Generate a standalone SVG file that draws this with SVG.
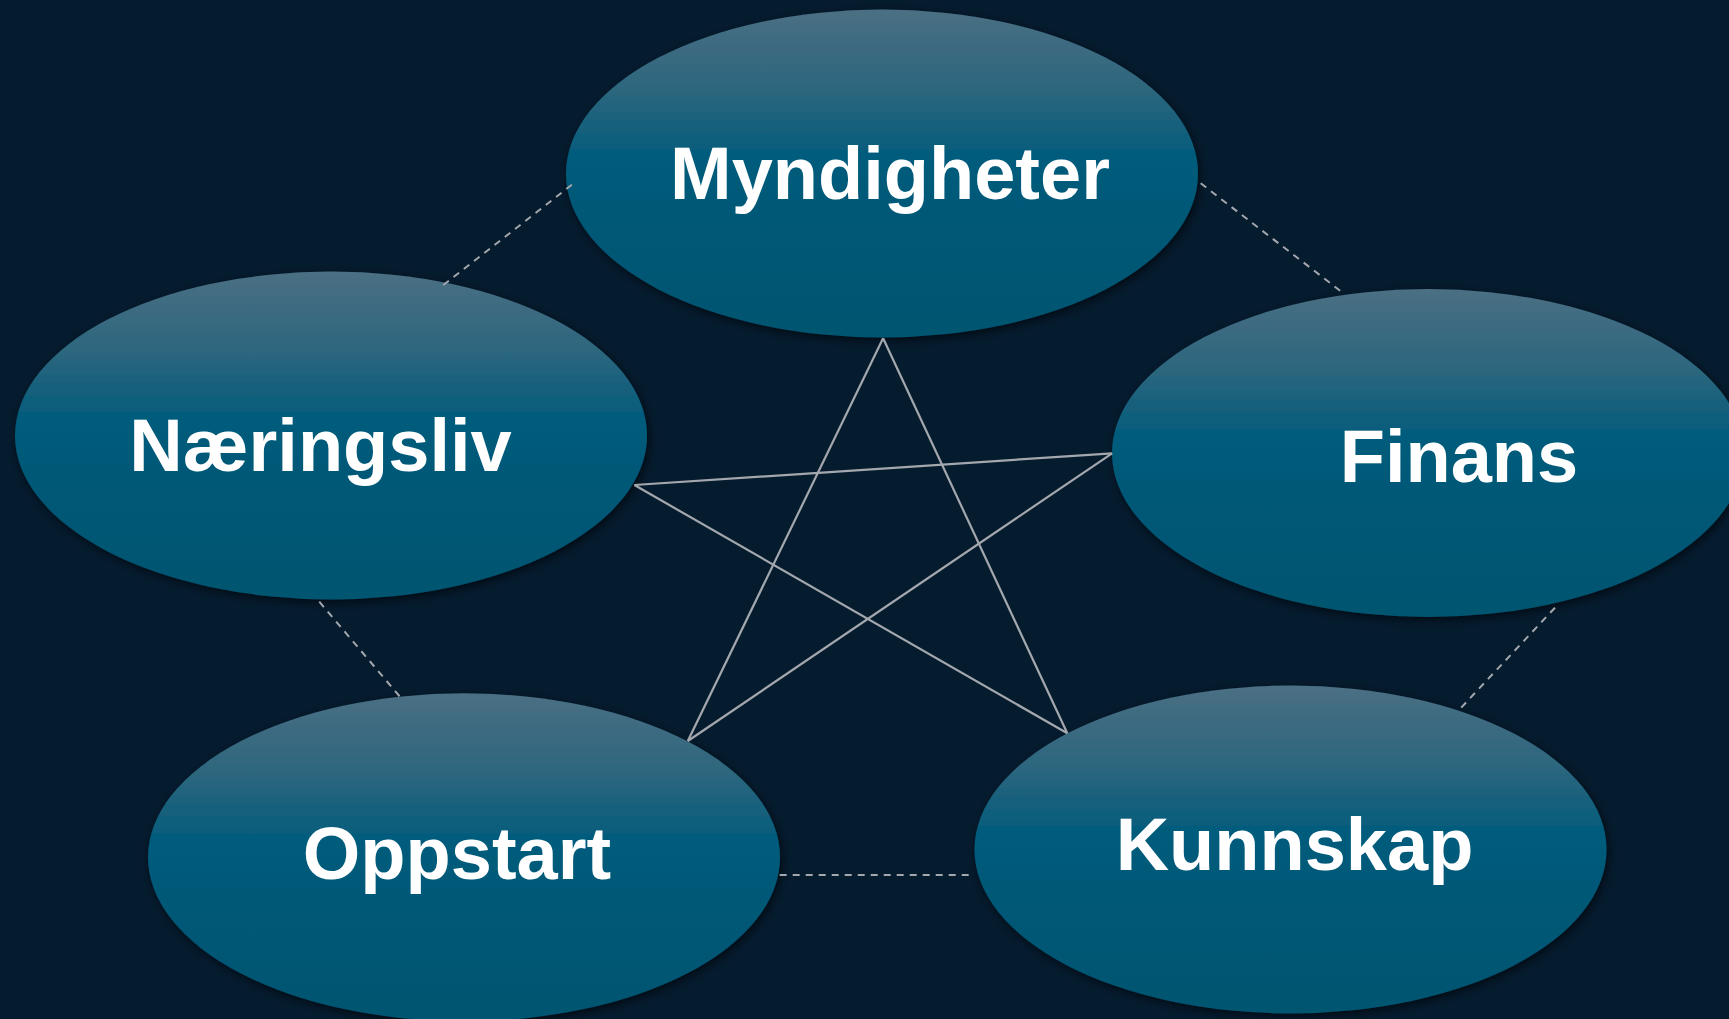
<svg xmlns="http://www.w3.org/2000/svg" width="1729" height="1019" viewBox="0 0 1729 1019">
  <defs>
    <linearGradient id="nodeGrad" x1="0" y1="0" x2="0" y2="1">
      <stop offset="0" stop-color="#4a6f83"/>
      <stop offset="0.25" stop-color="#2c667e"/>
      <stop offset="0.45" stop-color="#025b7b"/>
      <stop offset="1" stop-color="#005470"/>
    </linearGradient>
    <filter id="shadow" x="-10%" y="-10%" width="120%" height="125%">
      <feDropShadow dx="2" dy="3" stdDeviation="4" flood-color="#000000" flood-opacity="0.6"/>
    </filter>
  </defs>
  <style>
    .node { fill: url(#nodeGrad); filter: url(#shadow); }
    .label { font-family: "Liberation Sans", Arial, sans-serif; font-weight: bold; font-size: 74px; fill: #ffffff; text-anchor: middle; }
    .solid { stroke: #a4a8ae; stroke-width: 2.2; fill: none; }
    .dashed { stroke: #a4a8ae; stroke-width: 2; fill: none; stroke-dasharray: 7 6; }
  </style>
  <rect x="0" y="0" width="1729" height="1019" fill="#051b2e"/>

  <g id="node-myndigheter">
    <ellipse class="node" cx="882" cy="173.5" rx="316" ry="164"/>
    <text class="label" x="890" y="199">Myndigheter</text>
  </g>
  <g id="node-naeringsliv">
    <ellipse class="node" cx="331" cy="435.5" rx="316" ry="164"/>
    <text class="label" x="320.5" y="470.7">Næringsliv</text>
  </g>
  <g id="node-finans">
    <ellipse class="node" cx="1428" cy="453" rx="316" ry="164"/>
    <text class="label" x="1459" y="481.7">Finans</text>
  </g>
  <g id="node-oppstart">
    <ellipse class="node" cx="464" cy="857.3" rx="316" ry="164"/>
    <text class="label" x="457" y="879">Oppstart</text>
  </g>
  <g id="node-kunnskap">
    <ellipse class="node" cx="1290.5" cy="849.5" rx="316" ry="164"/>
    <text class="label" x="1294.5" y="870">Kunnskap</text>
  </g>

  <g id="connectors">
    <line class="dashed" x1="443.3" y1="285" x2="575" y2="182.3"/>
    <line class="dashed" x1="1200.7" y1="183.3" x2="1342.7" y2="292.7"/>
    <line class="dashed" x1="1555" y1="607.7" x2="1458.3" y2="710.7"/>
    <line class="dashed" x1="319.3" y1="601.7" x2="402.7" y2="700"/>
    <line class="dashed" x1="779.7" y1="875" x2="974.7" y2="875"/>
    <line class="solid" x1="883.1" y1="338.3" x2="687.8" y2="741"/>
    <line class="solid" x1="883.1" y1="338.3" x2="1067.3" y2="733.3"/>
    <line class="solid" x1="634.4" y1="485" x2="1112.1" y2="453.3"/>
    <line class="solid" x1="634.4" y1="485" x2="1067.3" y2="733.3"/>
    <line class="solid" x1="1112.1" y1="453.3" x2="687.8" y2="741"/>
  </g>
</svg>
